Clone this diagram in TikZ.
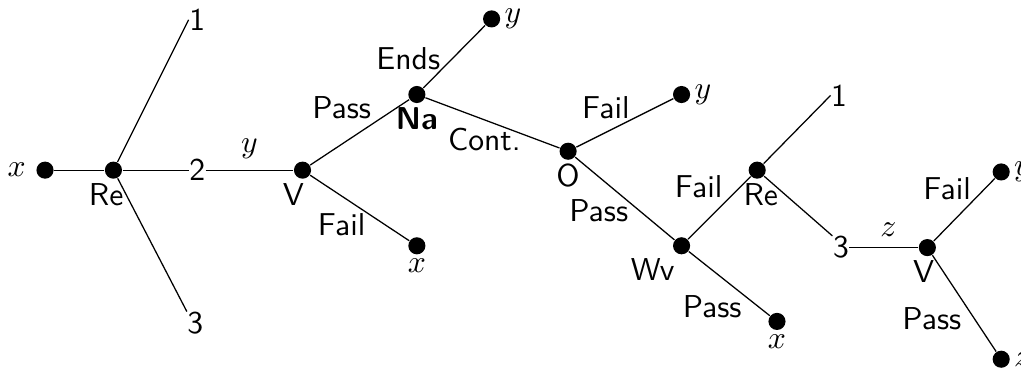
\documentclass[tikz,border=0pt]{standalone}
\usetikzlibrary{positioning}

\begin{document}
\begin{tikzpicture}[
    on grid,
    every node/.style={font=\sffamily},
    every label/.style={inner sep=1pt, font=\sffamily},
    dot/.style={circle, fill=black, inner sep=0pt, minimum size=0.19cm},
    numnode/.style={inner sep=0pt},
    edgelabel/.style={inner sep=0pt}
]

\useasboundingbox (0,0) rectangle (11.34,4.11);

% ============ FIRST ROUND ============
\node[dot, label={[label distance=2pt]left:$x$}] (xstart) at (0.5,2.22) {};
\node[dot, right=0.76cm of xstart, label={[xshift=-0.08cm]below:Re}] (re1) {};
\node[numnode, above right=1.67cm and 0.93cm of re1] (one1) {1};
\node[numnode, right=0.93cm of re1] (two1) {2};
\node[numnode, below right=1.7cm and 0.91cm of re1] (three1) {3};
\node[dot, right=1.17cm of two1, label={[xshift=-0.1cm]below:V}] (v1) {};
\node[dot, above right=0.84cm and 1.27cm of v1, label={below:\textbf{Na}}] (na) {};
\node[dot, below right=0.84cm and 1.27cm of v1, label={below:$x$}] (xfail1) {};
\node[dot, above right=0.84cm and 0.83cm of na, label={right:$y$}] (yends) {};

\draw (xstart) -- (re1);
\draw (re1) -- (one1.west);
\draw (re1) -- (two1);
\draw (re1) -- (three1.north west);
\draw (two1) -- node[above] {$y$} (v1);
\draw (v1) -- node[edgelabel, shift={(-0.2,0.27)}] {Pass} (na);
\draw (v1) -- node[edgelabel, shift={(-0.2,-0.19)}] {Fail} (xfail1);
\draw (na) -- node[edgelabel, shift={(-0.51,-0.02)}] {Ends} (yends);

% ============ SECOND ROUND ============
\node[dot, below right=0.63cm and 1.68cm of na, label={below:O}] (o) {};
\node[dot, above right=0.63cm and 1.26cm of o, label={right:$y$}] (yfail2) {};
\node[dot, below right=1.05cm and 1.26cm of o, label={[xshift=-0.32cm]below:Wv}] (wv) {};
\node[dot, below right=0.84cm and 1.06cm of wv, label={below:$x$}] (xpass2) {};
\node[dot, above right=0.84cm and 0.84cm of wv, label={[xshift=0.04cm]below:Re}] (re2) {};
\node[numnode, above right=0.83cm and 0.91cm of re2] (one2) {1};
\node[numnode, below right=0.86cm and 0.93cm of re2] (three2) {3};
\node[dot, right=0.96cm of three2, label={[xshift=-0.04cm]below:V}] (v2) {};
\node[dot, above right=0.84cm and 0.82cm of v2, label={right:$y$}] (yfail3) {};
\node[dot, below right=1.24cm and 0.82cm of v2, label={right:$z$}] (zpass3) {};

\draw (na) -- node[edgelabel, shift={(-0.09,-0.18)}] {Cont.} (o);
\draw (o) -- node[edgelabel, shift={(-0.21,0.17)}] {Fail} (yfail2);
\draw (o) -- node[edgelabel, shift={(-0.29,-0.14)}] {Pass} (wv);
\draw (wv) -- node[edgelabel, shift={(-0.23,0.24)}] {Fail} (re2);
\draw (wv) -- node[edgelabel, shift={(-0.19,-0.26)}] {Pass} (xpass2);
\draw (re2) -- (one2.west);
\draw (re2) -- (three2.north west);
\draw (three2) -- node[above, xshift=0.05cm] {$z$} (v2);
\draw (v2) -- node[edgelabel, shift={(-0.19,0.23)}] {Fail} (yfail3);
\draw (v2) -- node[edgelabel, shift={(-0.36,-0.17)}] {Pass} (zpass3);

\end{tikzpicture}
\end{document}
